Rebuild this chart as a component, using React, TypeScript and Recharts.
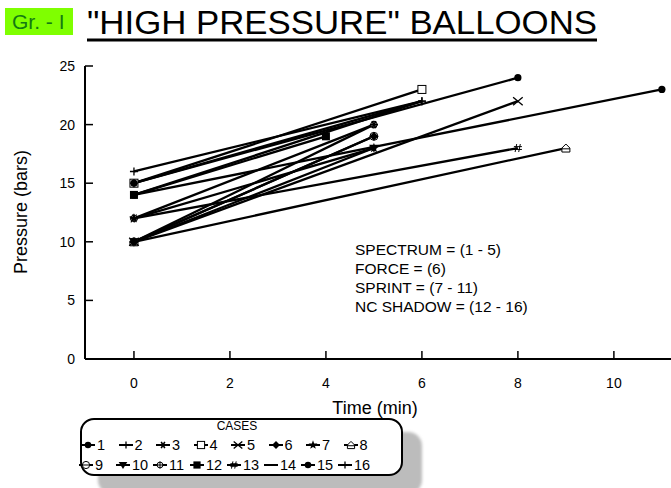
import React from "react";
import { LineChart, Line, XAxis, YAxis } from "recharts";

// cases: pressure at time 0, then the end point of each test
const caseIds = [1, 2, 3, 4, 5, 6, 7, 8, 9, 10, 11, 12, 13, 14, 15, 16];
const startTime = [0, 0, 0, 0, 0, 0, 0, 0, 0, 0, 0, 0, 0, 0, 0, 0];
const startPressure = [15, 15, 10, 15, 10, 10, 12, 10, 10, 10, 12, 14, 12, 14, 14, 16];
const endTime = [8, 6, 5, 6, 8, 5, 5, 9, 5, 5, 5, 4, 8, 6, 11, 6];
const endPressure = [24, 22, 20, 23, 22, 19, 18, 18, 19, 18, 20, 19, 18, 22, 23, 22];
const markerKinds = [
  "dot", "plus", "asterisk", "sqOpen", "x", "diamond", "star", "house",
  "circOpen", "triDown", "asterCirc", "sq", "hash", "dash", "dot", "plus",
];

const timeTicks = [0, 2, 4, 6, 8, 10];
const pressureTicks = [0, 5, 10, 15, 20, 25];
const noteLines = ["SPECTRUM = (1 - 5)", "FORCE = (6)", "SPRINT = (7 - 11)", "NC SHADOW = (12 - 16)"];

const FONT = "'Liberation Sans', Arial, sans-serif";

function Marker({ kind, cx, cy, s = 1 }: { kind: string; cx: number; cy: number; s?: number }) {
  const r = 4 * s;
  const k = { stroke: "#000", strokeWidth: 1.3, fill: "none" };
  switch (kind) {
    case "dot":
      return <circle cx={cx} cy={cy} r={3.6 * s} fill="#000" />;
    case "plus":
      return <path d={`M${cx - r},${cy}H${cx + r}M${cx},${cy - r}V${cy + r}`} {...k} />;
    case "asterisk": {
      const a = r * 0.87, b = r * 0.5;
      return <path d={`M${cx - r},${cy}H${cx + r}M${cx - b},${cy - a}L${cx + b},${cy + a}M${cx + b},${cy - a}L${cx - b},${cy + a}`} {...k} strokeWidth={1.6} />;
    }
    case "sqOpen":
      return <rect x={cx - r} y={cy - r} width={2 * r} height={2 * r} fill="#fff" stroke="#000" strokeWidth={1} />;
    case "x":
      return <path d={`M${cx - r * 1.2},${cy - r}L${cx + r * 1.2},${cy + r}M${cx + r * 1.2},${cy - r}L${cx - r * 1.2},${cy + r}`} {...k} />;
    case "diamond":
      return <path d={`M${cx},${cy - r * 1.1}L${cx + r * 1.1},${cy}L${cx},${cy + r * 1.1}L${cx - r * 1.1},${cy}Z`} fill="#000" />;
    case "star": {
      const pts: string[] = [];
      for (let i = 0; i < 10; i++) {
        const rr = i % 2 === 0 ? r * 1.3 : r * 0.55;
        const ang = -Math.PI / 2 + (i * Math.PI) / 5;
        pts.push(`${cx + rr * Math.cos(ang)},${cy + rr * Math.sin(ang)}`);
      }
      return <polygon points={pts.join(" ")} fill="#000" />;
    }
    case "house":
      return <path d={`M${cx - r},${cy + r}V${cy}L${cx},${cy - r}L${cx + r},${cy}V${cy + r}Z M${cx - r},${cy + r * 0.2}H${cx + r}`} fill="#fff" stroke="#000" strokeWidth={1} />;
    case "circOpen":
      return (
        <g>
          <circle cx={cx} cy={cy} r={r} fill="#fff" stroke="#000" strokeWidth={1} />
          <path d={`M${cx - r},${cy}H${cx + r}`} stroke="#000" strokeWidth={1} />
        </g>
      );
    case "triDown":
      return <path d={`M${cx - r * 1.2},${cy - r * 0.8}H${cx + r * 1.2}L${cx},${cy + r * 1.1}Z`} fill="#000" />;
    case "asterCirc":
      return (
        <g>
          <circle cx={cx} cy={cy} r={r * 0.8} fill="#fff" stroke="#000" strokeWidth={1} />
          <path d={`M${cx - r},${cy}H${cx + r}M${cx},${cy - r}V${cy + r}`} stroke="#000" strokeWidth={1} />
        </g>
      );
    case "sq":
      return <rect x={cx - r} y={cy - r} width={2 * r} height={2 * r} fill="#000" />;
    case "hash":
      return <path d={`M${cx - r * 0.3},${cy - r}L${cx - r * 0.7},${cy + r}M${cx + r * 0.6},${cy - r}L${cx + r * 0.2},${cy + r}M${cx - r},${cy - r * 0.35}H${cx + r}M${cx - r},${cy + r * 0.35}H${cx + r}`} {...k} strokeWidth={1} />;
    default:
      return null;
  }
}

const series = caseIds.map((id, i) => ({
  id,
  kind: markerKinds[i],
  data: [
    { t: startTime[i], p: startPressure[i] },
    { t: endTime[i], p: endPressure[i] },
  ],
}));

const tickStyle = { fill: "#000", fontSize: 14, fontFamily: FONT };

export default function App() {
  const drawOrder = [...series].reverse();
  return (
    <div style={{ position: "absolute", left: 0, top: 0, width: 671, height: 488, overflow: "hidden", background: "#fff", fontFamily: FONT }}>
      {/* header */}
      <div style={{ position: "absolute", left: 5, top: 8, width: 68, height: 27, background: "#7fff00" }} />
      <div style={{ position: "absolute", left: 12, top: 9, fontSize: 21, color: "#137a13", lineHeight: "26px" }}>Gr. - I</div>
      <svg width={671} height={50} style={{ position: "absolute", left: 0, top: 0 }}>
        <text x={87} y={34} fontSize={33} fontFamily={FONT} textLength={510} lengthAdjust="spacingAndGlyphs" fill="#000">
          "HIGH PRESSURE" BALLOONS
        </text>
        <rect x={87} y={38.5} width={510} height={3} fill="#000" />
      </svg>

      <div style={{ position: "absolute", left: 0, top: 0 }}>
        <LineChart width={671} height={400} margin={{ top: 66, right: 0, left: 45, bottom: 1 }}>
          <XAxis
            dataKey="t"
            type="number"
            domain={[-1.02, 11.19]}
            ticks={timeTicks}
            allowDataOverflow
            height={40}
            tickSize={-8}
            tickMargin={27}
            tick={tickStyle}
            axisLine={{ stroke: "#000", strokeWidth: 2 }}
            tickLine={{ stroke: "#000", strokeWidth: 1.5 }}
          />
          <YAxis
            type="number"
            domain={[0, 25]}
            ticks={pressureTicks}
            width={40}
            tickSize={-8}
            tickMargin={18}
            tick={tickStyle}
            axisLine={{ stroke: "#000", strokeWidth: 2 }}
            tickLine={{ stroke: "#000", strokeWidth: 1.5 }}
          />
          {drawOrder.map((s) => (
            <Line
              key={s.id}
              data={s.data}
              dataKey="p"
              stroke="#000"
              strokeWidth={2.3}
              isAnimationActive={false}
              dot={(p: any) => (
                <g key={`${s.id}-${p.index}`}>
                  <Marker kind={s.kind} cx={p.cx} cy={p.cy} />
                </g>
              )}
              activeDot={false}
            />
          ))}
        </LineChart>
      </div>

      {/* axis titles */}
      <div style={{ position: "absolute", left: 375, top: 408, transform: "translate(-50%, -50%)", fontSize: 18, whiteSpace: "nowrap" }}>Time (min)</div>
      <div style={{ position: "absolute", left: 21, top: 212, transform: "translate(-50%, -50%) rotate(-90deg)", fontSize: 18, whiteSpace: "nowrap" }}>Pressure (bars)</div>

      {/* notes */}
      <div style={{ position: "absolute", left: 355, top: 240, fontSize: 15.5, lineHeight: "19px" }}>
        {noteLines.map((l) => (
          <div key={l}>{l}</div>
        ))}
      </div>

      {/* legend */}
      <div style={{ position: "absolute", left: 98, top: 432, width: 324, height: 62, borderRadius: 14, background: "#bcbcbc", filter: "blur(1.5px)" }} />
      <div style={{ position: "absolute", left: 80, top: 418, width: 319, height: 54, borderRadius: 14, border: "2px solid #000", background: "#fff" }} />
      <div style={{ position: "absolute", left: 237, top: 426, transform: "translate(-50%, -50%)", fontSize: 12 }}>CASES</div>
      {series.map((s, i) => {
        const row = i < 8 ? 0 : 1;
        const col = i % 8;
        const cx = row === 0 ? 88 + col * 37.5 : 86 + col * 37;
        const cy = row === 0 ? 445 : 465;
        return (
          <React.Fragment key={s.id}>
            <svg width={16} height={12} style={{ position: "absolute", left: cx - 8, top: cy - 6, overflow: "visible" }}>
              <path d="M1,6H15" stroke="#000" strokeWidth={2} />
              <Marker kind={s.kind} cx={8} cy={6} s={0.9} />
            </svg>
            <div style={{ position: "absolute", left: cx + 9, top: cy - 8, fontSize: 14.5, lineHeight: "16px" }}>{s.id}</div>
          </React.Fragment>
        );
      })}
    </div>
  );
}
